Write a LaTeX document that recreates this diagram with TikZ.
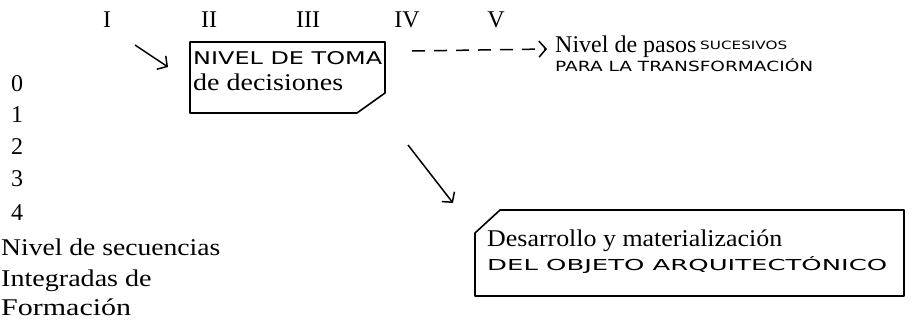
\documentclass[tikz,border=0pt]{standalone}
\usepackage{fontspec}
\usepackage{graphicx}
\setmainfont{Liberation Serif}
\newfontfamily\handfont{DejaVu Sans}
\usetikzlibrary{arrows.meta}
\newcommand{\sx}[2]{\scalebox{#1}[1]{#2}}
\newcommand{\hw}[3]{\resizebox{#1}{#2}{\handfont #3}}
\begin{document}
\begin{tikzpicture}[x=1pt,y=-1pt,
  txt/.style={inner sep=0pt, anchor=base west, font=\fontsize{24}{28}\selectfont},
  num/.style={inner sep=0pt, anchor=base, font=\fontsize{24}{28}\selectfont},
  hand/.style={inner sep=0pt, anchor=base west},
  boxline/.style={line width=1.6pt, line join=round},
  arr/.style={line width=1.5pt, -{Straight Barb[length=7pt,width=16pt,line width=1.5pt]}},
  ]
\useasboundingbox (0,0) rectangle (923,320);
% roman numerals
\node[num] (rI) at (107,28) {I};
\node[num] (rII) at (209,28) {II};
\node[num] (rIII) at (308,28) {III};
\node[num] (rIV) at (407,28) {IV};
\node[num] (rV) at (496,28) {V};
% left column
\node[txt] (d0) at (11,92) {0};
\node[txt] (d1) at (11,123) {1};
\node[txt] (d2) at (11,155) {2};
\node[txt] (d3) at (11,187) {3};
\node[txt] (d4) at (11,221) {4};
\node[txt] (l1) at (1,256) {\sx{1.15}{Nivel de secuencias}};
\node[txt] (l2) at (1,286) {\sx{1.17}{Integradas de}};
\node[txt] (l3) at (1,315) {\sx{1.25}{Formación}};
% box 1
\draw[boxline] (190,42) -- (385,42) -- (385,93) -- (357,113) -- (190,113) -- cycle;
\node[hand] (b1a) at (193,65) {\hw{189pt}{13pt}{NIVEL DE TOMA}};
\node[txt] (b1b) at (193,91) {\sx{1.166}{de decisiones}};
% right text
\node[txt] (p1) at (555,53) {Nivel de pasos};
\node[hand] (p2) at (700,50) {\hw{87pt}{8.5pt}{SUCESIVOS}};
\node[hand] (p3) at (555,72) {\hw{258pt}{13pt}{PARA LA TRANSFORMACIÓN}};
% box 2
\draw[boxline] (475,233) -- (500,210) -- (904,210) -- (904,296) -- (475,296) -- cycle;
\node[txt] (q1) at (487,247) {\sx{1.08}{Desarrollo y materialización}};
\node[hand] (q2) at (487,271) {\hw{400pt}{14pt}{DEL OBJETO ARQUITECTÓNICO}};
% arrows
\coordinate (a1s) at (135,45);
\coordinate (a1e) at (168,67);
\draw[arr] (a1s) -- (a1e);
\coordinate (ds) at (412,51);
\coordinate (de) at (547,49);
\draw[arr, dash pattern=on 13pt off 9pt] (ds) -- (de);
\coordinate (a2s) at (408,145);
\coordinate (a2e) at (453,203);
\draw[arr] (a2s) -- (a2e);
\end{tikzpicture}
\end{document}
